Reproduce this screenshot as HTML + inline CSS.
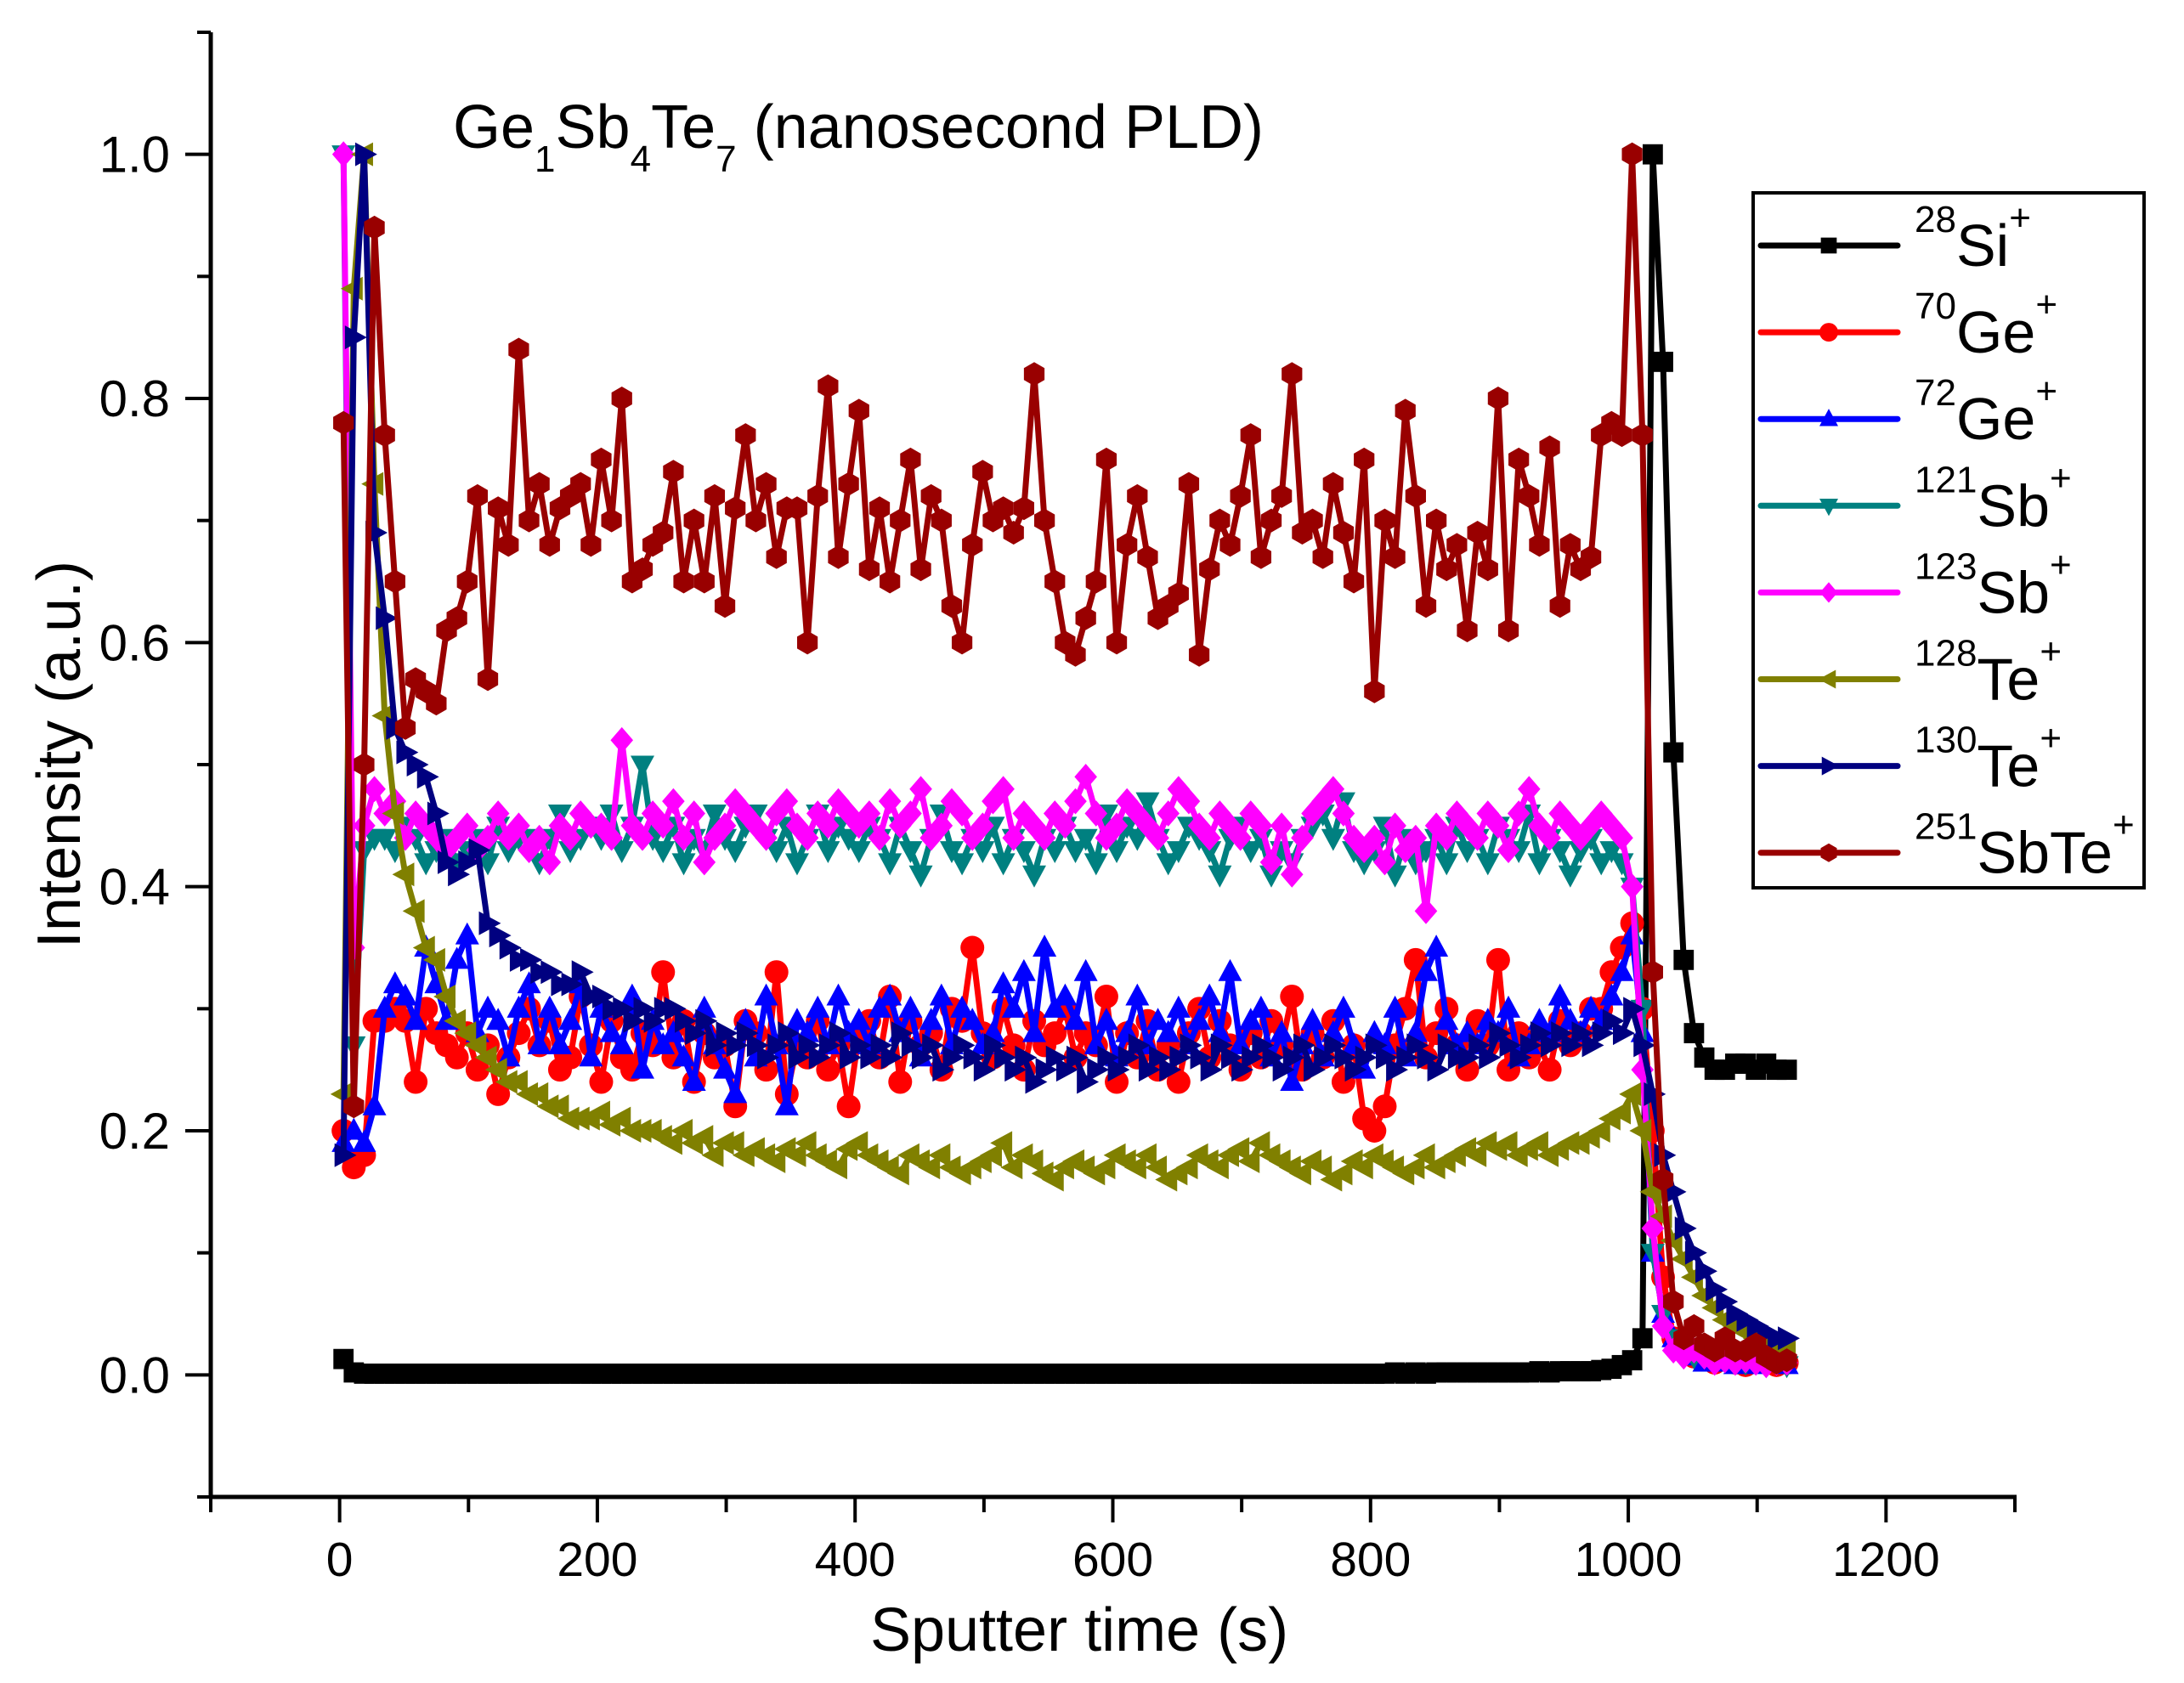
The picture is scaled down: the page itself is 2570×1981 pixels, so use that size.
<!DOCTYPE html>
<html><head><meta charset="utf-8"><style>
html,body{margin:0;padding:0;background:#fff;}
svg{display:block;font-family:"Liberation Sans",Arial,sans-serif;}
</style></head><body>
<svg id="chart" xmlns="http://www.w3.org/2000/svg" width="2570" height="1981" viewBox="0 0 2570 1981">
<rect x="0" y="0" width="2570" height="1981" fill="#fff"/>
<g id="axes"></g>
<g id="series"></g>
<text x="533" y="174" font-size="72">Ge<tspan font-size="44" dy="28">1</tspan><tspan dy="-28">Sb</tspan><tspan font-size="44" dy="28">4</tspan><tspan dy="-28">Te</tspan><tspan font-size="44" dy="28">7</tspan><tspan dy="-28"> (nanosecond PLD)</tspan></text>
<text x="1270" y="1943" font-size="72" text-anchor="middle">Sputter time (s)</text>
<text x="0" y="0" font-size="72" text-anchor="middle" transform="translate(94,888) rotate(-90)">Intensity (a.u.)</text>
<g id="legend"></g>
</svg>
<script>
const times = [3,11,19,27,35,43,51,59,67,75,83,91,99,107,115,123,131,139,147,155,163,171,179,187,195,203,211,219,227,235,243,251,259,267,275,283,291,299,307,315,323,331,339,347,355,363,371,379,387,395,403,411,419,427,435,443,451,459,467,475,483,491,499,507,515,523,531,539,547,555,563,571,579,587,595,603,611,619,627,635,643,651,659,667,675,683,691,699,707,715,723,731,739,747,755,763,771,779,787,795,803,811,819,827,835,843,851,859,867,875,883,891,899,907,915,923,931,939,947,955,963,971,979,987,995,1003,1011,1019,1027,1035,1043,1051,1059,1067,1075,1083,1091,1099,1107,1115,1123];
const si28 = [0.013,0.002,0.001,0.001,0.001,0.001,0.001,0.001,0.001,0.001,
0.001,0.001,0.001,0.001,0.001,0.001,0.001,0.001,0.001,0.001,
0.001,0.001,0.001,0.001,0.001,0.001,0.001,0.001,0.001,0.001,
0.001,0.001,0.001,0.001,0.001,0.001,0.001,0.001,0.001,0.001,
0.001,0.001,0.001,0.001,0.001,0.001,0.001,0.001,0.001,0.001,
0.001,0.001,0.001,0.001,0.001,0.001,0.001,0.001,0.001,0.001,
0.001,0.001,0.001,0.001,0.001,0.001,0.001,0.001,0.001,0.001,
0.001,0.001,0.001,0.001,0.001,0.001,0.001,0.001,0.001,0.001,
0.001,0.001,0.001,0.001,0.001,0.001,0.001,0.001,0.001,0.001,
0.001,0.001,0.001,0.001,0.001,0.001,0.001,0.001,0.001,0.001,
0.001,0.001,0.002,0.001,0.002,0.001,0.002,0.002,0.002,0.002,
0.002,0.002,0.002,0.002,0.002,0.002,0.003,0.002,0.003,0.003,
0.003,0.003,0.004,0.005,0.008,0.012,0.03,1.0,0.83,0.51,
0.34,0.28,0.26,0.25,0.25,0.255,0.255,0.25,0.255,0.25,0.25];
const ge70 = [.20,.17,.18,.29,.29,.30,.29,.24,.30,.28,
.27,.26,.28,.25,.27,.23,.26,.28,.30,.27,
.29,.25,.26,.31,.27,.24,.29,.26,.25,.28,
.27,.33,.26,.29,.24,.28,.26,.27,.22,.29,
.28,.25,.33,.23,.27,.26,.29,.25,.27,.22,
.28,.29,.26,.31,.24,.29,.27,.28,.25,.30,
.29,.35,.28,.26,.30,.27,.25,.29,.27,.28,
.30,.26,.28,.27,.31,.24,.28,.26,.29,.25,
.27,.24,.28,.30,.26,.29,.27,.25,.28,.26,
.29,.27,.31,.25,.28,.26,.29,.24,.27,.21,
.20,.22,.27,.30,.34,.26,.28,.30,.27,.25,
.29,.27,.34,.25,.28,.26,.27,.25,.29,.27,
.28,.30,.30,.33,.35,.37,.30,.20,.08,.03,
.02,.015,.02,.01,.015,.01,.008,.012,.01,.008,.01];
const ge72 = [.19,.20,.19,.22,.30,.32,.31,.29,.35,.32,
.29,.34,.36,.28,.30,.29,.26,.30,.32,.27,
.30,.27,.29,.32,.26,.30,.28,.27,.31,.25,
.29,.27,.28,.26,.24,.30,.27,.25,.23,.29,
.26,.31,.27,.22,.29,.28,.30,.27,.31,.28,
.29,.27,.30,.31,.28,.30,.26,.29,.31,.27,
.30,.29,.27,.28,.32,.30,.33,.28,.35,.30,
.31,.29,.33,.27,.29,.26,.28,.31,.27,.29,
.28,.30,.27,.29,.31,.28,.33,.27,.29,.30,
.26,.28,.24,.27,.29,.26,.28,.30,.27,.25,
.28,.27,.30,.26,.28,.33,.35,.29,.27,.28,
.27,.29,.28,.30,.26,.27,.29,.28,.31,.29,
.28,.30,.29,.31,.33,.36,.28,.10,.05,.03,
.02,.015,.01,.012,.01,.008,.01,.008,.01,.01,.008];
const sb121 = [1.0,.27,.43,.44,.44,.43,.45,.44,.42,.43,
.44,.42,.43,.44,.42,.45,.43,.44,.44,.42,
.44,.46,.43,.44,.45,.44,.46,.43,.45,.50,
.44,.43,.45,.42,.44,.43,.46,.44,.43,.45,
.46,.44,.43,.45,.42,.44,.46,.43,.45,.44,
.43,.45,.44,.42,.45,.43,.41,.44,.46,.43,
.42,.44,.43,.45,.42,.44,.43,.41,.44,.43,
.45,.43,.44,.42,.46,.43,.45,.44,.47,.44,
.42,.43,.45,.44,.43,.41,.44,.45,.43,.44,
.41,.43,.42,.44,.45,.46,.44,.47,.43,.42,
.43,.45,.41,.44,.42,.43,.44,.42,.45,.43,
.44,.42,.45,.44,.43,.46,.42,.44,.43,.41,
.43,.44,.42,.43,.42,.40,.30,.10,.05,.03,
.02,.015,.02,.01,.012,.01,.01,.012,.008,.01,.008];
const sb123 = [1.0,.35,.45,.48,.46,.47,.44,.46,.45,.44,
.43,.44,.45,.43,.44,.46,.44,.45,.43,.44,
.42,.45,.44,.46,.45,.45,.44,.52,.45,.44,
.46,.45,.47,.44,.46,.42,.44,.45,.47,.46,
.45,.44,.46,.47,.45,.44,.46,.45,.47,.46,
.45,.46,.44,.47,.45,.46,.48,.44,.45,.47,
.46,.44,.45,.47,.48,.44,.46,.45,.44,.46,
.45,.47,.49,.46,.44,.45,.47,.46,.45,.44,
.46,.48,.47,.45,.44,.46,.45,.44,.46,.45,
.42,.45,.41,.44,.46,.47,.48,.46,.44,.43,
.44,.42,.45,.43,.44,.38,.45,.44,.46,.45,
.44,.46,.45,.43,.46,.48,.45,.44,.46,.45,
.44,.45,.46,.45,.44,.40,.25,.12,.04,.02,
.015,.02,.015,.01,.012,.01,.012,.01,.008,.01,.01];
const te128 = [.23,.89,1.0,.73,.54,.46,.41,.38,.35,.34,
.31,.29,.28,.27,.26,.25,.24,.24,.23,.23,
.22,.22,.21,.21,.21,.215,.205,.21,.20,.20,
.20,.195,.19,.20,.19,.195,.18,.19,.19,.18,
.185,.18,.175,.185,.18,.19,.18,.175,.17,.185,
.19,.18,.175,.17,.165,.18,.175,.17,.18,.17,
.165,.17,.175,.18,.19,.17,.18,.175,.165,.16,
.17,.175,.17,.165,.17,.18,.175,.17,.18,.17,
.16,.165,.17,.18,.175,.17,.18,.185,.175,.19,
.18,.175,.17,.165,.175,.17,.16,.165,.175,.17,
.18,.175,.17,.165,.17,.18,.17,.175,.18,.185,
.18,.19,.185,.19,.18,.185,.19,.18,.185,.19,
.19,.195,.20,.21,.215,.23,.20,.15,.13,.11,
.095,.08,.065,.055,.045,.04,.035,.03,.025,.02,.02];
const te130 = [.18,.85,1.0,.69,.62,.53,.51,.50,.49,.46,
.42,.41,.42,.43,.37,.36,.35,.34,.34,.33,
.33,.32,.32,.33,.31,.31,.30,.30,.29,.30,
.29,.30,.30,.29,.28,.29,.27,.28,.27,.28,
.27,.26,.27,.28,.26,.27,.26,.27,.28,.26,
.27,.26,.27,.26,.28,.27,.26,.27,.25,.26,
.27,.26,.25,.27,.26,.25,.26,.24,.25,.26,
.25,.26,.24,.25,.26,.25,.26,.27,.25,.26,
.25,.26,.27,.26,.25,.27,.26,.25,.26,.27,
.26,.25,.26,.27,.25,.26,.27,.26,.25,.26,
.27,.26,.25,.26,.27,.26,.25,.27,.26,.26,
.27,.26,.28,.27,.26,.27,.28,.27,.28,.27,
.28,.27,.28,.29,.28,.30,.27,.23,.18,.15,
.12,.10,.085,.07,.06,.05,.045,.04,.035,.03,.03];
const sbte251 = [.78,.22,.5,.94,.77,.65,.53,.57,.56,.55,
.61,.62,.65,.72,.57,.71,.68,.84,.70,.73,
.68,.71,.72,.73,.68,.75,.70,.80,.65,.66,
.68,.69,.74,.65,.70,.65,.72,.63,.71,.77,
.70,.73,.67,.71,.71,.60,.72,.81,.67,.73,
.79,.66,.71,.65,.70,.75,.66,.72,.70,.63,
.60,.68,.74,.70,.71,.69,.71,.82,.70,.65,
.60,.59,.62,.65,.75,.60,.68,.72,.67,.62,
.63,.64,.73,.59,.66,.70,.68,.72,.77,.67,
.70,.72,.82,.69,.70,.67,.73,.69,.65,.75,
.56,.70,.67,.79,.72,.63,.70,.66,.68,.61,
.69,.66,.80,.61,.75,.72,.68,.76,.63,.68,
.66,.67,.77,.78,.77,1.0,.77,.33,.16,.06,
.03,.04,.025,.02,.03,.02,.02,.025,.015,.01,.012];
const seriesNames = ["si-28","ge-70","ge-72","sb-121","sb-123","te-128","te-130","sbte-251"];
const seriesMass = ["28","70","72","121","123","128","130","251"];
const seriesElem = ["Si","Ge","Ge","Sb","Sb","Te","Te","SbTe"];
const xTicks = [0,200,400,600,800,1000,1200];
const yTicks = [0.0,0.2,0.4,0.6,0.8,1.0];

const NS="http://www.w3.org/2000/svg";
const X0=248, X1=2371, Y0=1762, Y1=38;
const xmin=-100, xmax=1300, ymin=-0.1, ymax=1.1;
function sx(t){return X0+(t-xmin)/(xmax-xmin)*(X1-X0);}
function sy(v){return Y0-(v-ymin)/(ymax-ymin)*(Y0-Y1);}
function mk(tag,attrs,parent){const e=document.createElementNS(NS,tag);for(const k in attrs)e.setAttribute(k,attrs[k]);parent.appendChild(e);return e;}

const axes=document.getElementById('axes');
let yl=mk('line',{x1:X0,y1:Y1,x2:X0,y2:Y0+2,stroke:'#000','stroke-width':5},axes);


let xl=mk('line',{x1:X0-2,y1:Y0,x2:X1+2,y2:Y0,stroke:'#000','stroke-width':5},axes);


for(let t=-100;t<=1300;t+=100){
  const major=xTicks.indexOf(t)>=0;
  const tk=mk('line',{x1:sx(t),y1:Y0,x2:sx(t),y2:Y0+(major?30:18),stroke:'#000','stroke-width':4},axes);
  
  
}
xTicks.forEach(t=>{
  const tx=mk('text',{x:sx(t),y:1855,'font-size':57,'text-anchor':'middle'},axes);
  tx.textContent=String(t);
  
  
});
for(let i=-1;i<=11;i++){
  const v=i/10;
  const major=(i%2===0)&&i>=0&&i<=10;
  const tk=mk('line',{x1:X0,y1:sy(v),x2:X0-(major?30:16),y2:sy(v),stroke:'#000','stroke-width':4},axes);
  
  
}
yTicks.forEach(v=>{
  const tx=mk('text',{x:200,y:sy(v)+21,'font-size':60,'text-anchor':'end'},axes);
  tx.textContent=v.toFixed(1);
  
  
});

const colors=['#000000','#ff0000','#0000ff','#008080','#ff00ff','#808000','#000080','#990000'];
const shapes=['square','circle','up','down','diamond','left','right','hex'];
function marker(shape,x,y,r,col,parent){
  let e;
  if(shape==='square') e=mk('rect',{x:x-r*0.85,y:y-r*0.85,width:r*1.7,height:r*1.7,fill:col},parent);
  else if(shape==='circle') e=mk('circle',{cx:x,cy:y,r:r,fill:col},parent);
  else{
    let pts;
    if(shape==='up') pts=[[0,-1.1],[1,0.75],[-1,0.75]];
    else if(shape==='down') pts=[[0,1.1],[1,-0.75],[-1,-0.75]];
    else if(shape==='left') pts=[[-1.1,0],[0.75,-1],[0.75,1]];
    else if(shape==='right') pts=[[1.1,0],[-0.75,-1],[-0.75,1]];
    else if(shape==='diamond') pts=[[0,-1.1],[0.95,0],[0,1.1],[-0.95,0]];
    else {pts=[];for(let k=0;k<6;k++){const a=Math.PI/2+k*Math.PI/3;pts.push([Math.cos(a),Math.sin(a)]);}}
    e=mk('polygon',{points:pts.map(p=>(x+p[0]*r)+','+(y+p[1]*r)).join(' '),fill:col},parent);
  }
  return e;
}
const allData=[si28,ge70,ge72,sb121,sb123,te128,te130,sbte251];
const sg=document.getElementById('series');
allData.forEach((vals,si)=>{
  const g=mk('g',{},sg);
  
  
  const d=vals.map((v,i)=>(i?'L':'M')+sx(times[i]).toFixed(1)+','+sy(v).toFixed(1)).join(' ');
  const p=mk('path',{d:d,fill:'none',stroke:colors[si],'stroke-width':7,'stroke-linejoin':'round'},g);
  
  
  vals.forEach((v,i)=>{
    const m=marker(shapes[si],sx(times[i]),sy(v),14,colors[si],g);
    
    
  });
});

const lg=document.getElementById('legend');
const box=mk('rect',{x:2063,y:227,width:460,height:818,fill:'#fff',stroke:'#000','stroke-width':4},lg);


seriesNames.forEach((n,i)=>{
  const y=289+i*102.1;
  const g=mk('g',{},lg);
  
  
  mk('line',{x1:2072,y1:y,x2:2233,y2:y,stroke:colors[i],'stroke-width':7,'stroke-linecap':'round'},g);
  marker(shapes[i],2152,y,11,colors[i],g);
  const t=mk('text',{x:2253,y:y+24,'font-size':70},g);
  const s1=mk('tspan',{'font-size':44,dy:-40},t); s1.textContent=seriesMass[i];
  const s2=mk('tspan',{dy:40},t); s2.textContent=seriesElem[i];
  const s3=mk('tspan',{'font-size':44,dy:-42},t); s3.textContent='+';
  
  
});
</script>
</body></html>
